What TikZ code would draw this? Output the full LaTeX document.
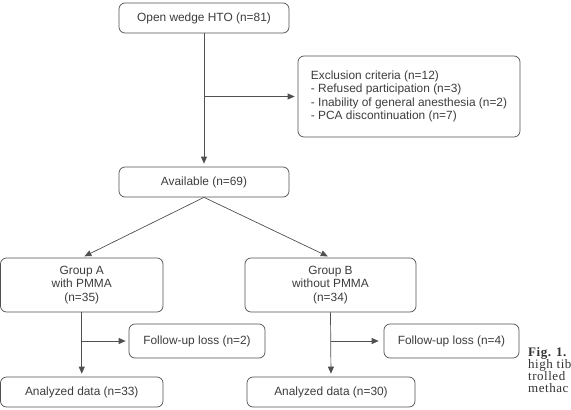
\documentclass[tikz,border=0pt]{standalone}
\usepackage{fontspec}
\setsansfont{Liberation Sans}
\newfontfamily\capfont[LetterSpace=4]{Liberation Serif}
\usetikzlibrary{arrows.meta}
\definecolor{boxgray}{HTML}{505050}
\definecolor{txtgray}{HTML}{3C3C3C}
\begin{document}
\begin{tikzpicture}[x=1pt, y=-1pt, font=\sffamily\fontsize{11.9}{13.5}\selectfont,
  box/.style={draw=boxgray, line width=0.7pt, rounded corners=6pt, text=txtgray, inner sep=0pt, align=center},
  arr/.style={draw=boxgray, line width=0.7pt, -{Triangle[length=7pt,width=6pt]}, shorten >=3pt}]

\clip (0,0) rectangle (571,410);
\useasboundingbox (0,0) rectangle (571,410);

\node[box, minimum width=170pt, minimum height=30pt] (hto) at (204,18) {Open wedge HTO (n=81)};
\node[box, align=left, minimum width=222pt, minimum height=81pt] (excl) at (409,96.5)
  {Exclusion criteria (n=12)\\- Refused participation (n=3)\\- Inability of general anesthesia (n=2)\\- PCA discontinuation (n=7)};
\node[box, minimum width=170pt, minimum height=30pt] (avail) at (204,182) {Available (n=69)};

\node[box, minimum width=162.5pt, minimum height=54pt] (grpA) at (81.75,285) {Group A\\with PMMA\\(n=35)};
\node[box, minimum width=171pt, minimum height=54pt] (grpB) at (330.5,285) {Group B\\without PMMA\\(n=34)};

\node[box, minimum width=136pt, minimum height=34pt] (lossA) at (197,341) {Follow-up loss (n=2)};
\node[box, minimum width=135pt, minimum height=34pt] (lossB) at (451.5,341) {Follow-up loss (n=4)};

\node[box, minimum width=162.5pt, minimum height=30pt] (anaA) at (81.75,392) {Analyzed data (n=33)};
\node[box, minimum width=168pt, minimum height=30pt] (anaB) at (331,392) {Analyzed data (n=30)};

% caption, cut at the right edge
\node[anchor=north west, inner sep=0pt, align=left, text=black!80,
  font=\capfont\fontsize{13}{12}\selectfont] (cap) at (528,347.5)
  {\textbf{Fig. 1.}\\high tib\\trolled\\methac};

\coordinate (j1) at (hto.south |- excl.west);
\coordinate (jA) at (grpA.south |- lossA.west);
\coordinate (jB) at (grpB.south |- lossB.west);

\draw[arr] (hto.south) -- (avail.north);
\draw[arr] (j1) -- (excl.west);
\draw[arr] (avail.south) -- (grpA.north);
\draw[arr] (avail.south) -- (grpB.north);
\draw[arr] (grpA.south) -- (anaA.north);
\draw[arr] (jA) -- (lossA.west);
\draw[arr] (grpB.south) -- (anaB.north);
\draw[arr, shorten >=5pt] (jB) -- (lossB.west);
\end{tikzpicture}
\end{document}
